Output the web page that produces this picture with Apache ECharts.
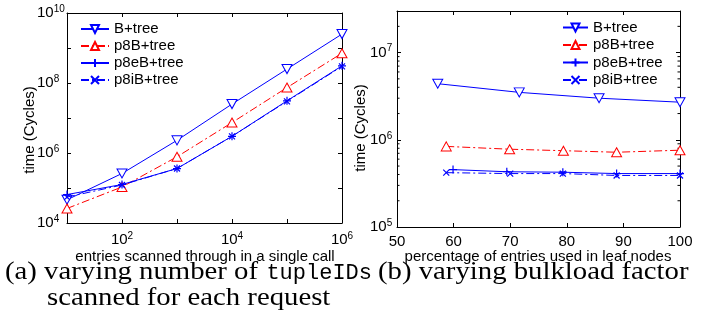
<!DOCTYPE html>
<html>
<head>
<meta charset="utf-8">
<script src="https://cdn.jsdelivr.net/npm/echarts@6/dist/echarts.min.js"></script>
<style>
html,body{margin:0;padding:0;background:#fff;}
#c{width:710px;height:325px;}
</style>
</head>
<body>
<div id="c"></div>
<script>
// ---- data: panel (a) ----
const seriesNames = ['B+tree', 'p8B+tree', 'p8eB+tree', 'p8iB+tree'];
const entriesA = [10, 100, 1000, 10000, 100000, 1000000];
const aBtree = [4.6e4, 2.6e5, 2.3e6, 2.5e7, 2.5e8, 2.5e9];
const aP8B   = [2.6e4, 1.07e5, 7.8e5, 7.4e6, 7.4e7, 7.1e8];
const aP8eB  = [6.5e4, 1.26e5, 3.6e5, 3.0e6, 3.1e7, 3.1e8];
const aP8iB  = [5.5e4, 1.22e5, 3.6e5, 3.0e6, 3.0e7, 3.0e8];
// ---- data: panel (b) ----
const bBtreeX = [57.2, 71.6, 85.7, 100];
const bBtree  = [4.4e6, 3.5e6, 3.0e6, 2.7e6];
const bP8BX   = [58.7, 69.9, 79.4, 88.8, 100];
const bP8B    = [8.4e5, 7.8e5, 7.5e5, 7.2e5, 7.6e5];
const bP8eBX  = [59.9, 69.4, 79.3, 88.8, 100];
const bP8eB   = [4.55e5, 4.3e5, 4.25e5, 4.1e5, 4.1e5];
const bP8iBX  = [58.7, 70.0, 79.3, 88.8, 100];
const bP8iB   = [4.2e5, 4.1e5, 4.1e5, 3.9e5, 3.9e5];
// ---- axes ----
const axA_x = {min: 10, max: 1e6};
const axA_y = {min: 1e4, max: 1e10};
const axB_x = {min: 50, max: 100, interval: 10};
const axB_y = {min: 1e5, max: 3e7};
const minorTicksB = [2e5,3e5,4e5,5e5,6e5,7e5,8e5,9e5,2e6,3e6,4e6,5e6,6e6,7e6,8e6,9e6,2e7];
// ---- text ----
const xTitleA = 'entries scanned through in a single call';
const xTitleB = 'percentage of entries used in leaf nodes';
const yTitle = 'time (Cycles)';
const capA1 = '(a) varying number of ';
const capA1tt = 'tupleIDs';
const capA2 = 'scanned for each request';
const capB = '(b) varying bulkload factor';

const FF = 'Liberation Sans, Arial, sans-serif';
const SERIF = '25px Liberation Serif, serif';
const MONO = '22px Liberation Mono, monospace';
const SX = 1.15;
const BLUE = '#0000ff', RED = '#ff0000';
const triDown = 'path://M0,0L10,0L5,8.7Z';
const triUp = 'path://M5,0L10,8.7L0,8.7Z';
const plus = 'path://M5,0L5,10M0,5L10,5';
const cross = 'path://M0,0L10,10M10,0L0,10';
const dashDot = [8, 3, 2, 3];

function pairs(xs, ys) { return xs.map((x, i) => [x, ys[i]]); }
function powLabel(filter) {
  return function (v) {
    const l = Math.log10(v), e = Math.round(l);
    if (Math.abs(l - e) > 1e-6 || !filter(e)) return '';
    return '{b|10}{s|' + e + '}';
  };
}
const rich = {
  b: {fontSize: 15, fontFamily: FF, color: '#000', lineHeight: 18},
  s: {fontSize: 10, fontFamily: FF, color: '#000', lineHeight: 1, verticalAlign: 'top'}
};

const styles = [
  {symbol: triDown, symbolSize: [10, 9], item: {color: '#fff', borderColor: BLUE, borderWidth: 1}, line: {color: BLUE, width: 1, type: 'solid'}},
  {symbol: triUp, symbolSize: [10, 9], item: {color: '#fff', borderColor: RED, borderWidth: 1}, line: {color: RED, width: 1, type: dashDot}},
  {symbol: plus, symbolSize: 8, item: {color: BLUE, borderColor: BLUE, borderWidth: 1.2}, line: {color: BLUE, width: 1, type: 'solid'}},
  {symbol: cross, symbolSize: 6, item: {color: BLUE, borderColor: BLUE, borderWidth: 1.2}, line: {color: BLUE, width: 1, type: dashDot}}
];

function mkSeries(idx, data, xi, yi) {
  const st = styles[idx];
  return {
    type: 'line', name: seriesNames[idx], xAxisIndex: xi, yAxisIndex: yi,
    data: data, symbol: st.symbol, symbolSize: st.symbolSize, showSymbol: true,
    itemStyle: st.item, lineStyle: st.line, animation: false, z: 3 + idx
  };
}

function baseAxis(extra) {
  return Object.assign({
    axisLine: {show: true, onZero: false, lineStyle: {color: '#000', width: 1}},
    axisTick: {show: true, inside: true, length: 4, lineStyle: {color: '#000'}},
    splitLine: {show: false},
    axisLabel: {show: false}
  }, extra);
}

const legendText = {fontSize: 15, fontFamily: FF, color: '#000', lineHeight: 17};

const option = {
  backgroundColor: '#fff',
  animation: false,
  grid: [
    {left: 67, top: 13, width: 275, height: 210, show: false},
    {left: 397, top: 11, width: 283, height: 216, show: false}
  ],
  xAxis: [
    baseAxis({gridIndex: 0, type: 'log', logBase: 10, min: axA_x.min, max: axA_x.max, position: 'bottom',
      axisLabel: {show: true, margin: 8, formatter: powLabel(e => e % 2 === 0), rich: rich}}),
    baseAxis({gridIndex: 0, type: 'log', logBase: 10, min: axA_x.min, max: axA_x.max, position: 'top'}),
    baseAxis({gridIndex: 1, type: 'value', min: axB_x.min, max: axB_x.max, interval: axB_x.interval, position: 'bottom',
      axisLabel: {show: true, margin: 7, fontSize: 15, fontFamily: FF, color: '#000'}}),
    baseAxis({gridIndex: 1, type: 'value', min: axB_x.min, max: axB_x.max, interval: axB_x.interval, position: 'top'})
  ],
  yAxis: [
    baseAxis({gridIndex: 0, type: 'log', logBase: 10, min: axA_y.min, max: axA_y.max, position: 'left',
      axisLabel: {show: true, margin: 30, align: 'left', formatter: powLabel(e => e % 2 === 0), rich: rich}}),
    baseAxis({gridIndex: 0, type: 'log', logBase: 10, min: axA_y.min, max: axA_y.max, position: 'right'}),
    baseAxis({gridIndex: 1, type: 'log', logBase: 10, min: axB_y.min, max: axB_y.max, position: 'left',
      axisLabel: {show: true, margin: 27, align: 'left', formatter: powLabel(e => true), rich: rich}}),
    baseAxis({gridIndex: 1, type: 'log', logBase: 10, min: axB_y.min, max: axB_y.max, position: 'right'})
  ],
  legend: [
    {data: seriesNames, orient: 'vertical', left: 80, top: 20.5, padding: 0, itemWidth: 28, itemHeight: 10, itemGap: 0,
      textStyle: legendText, selectedMode: false},
    {data: seriesNames, orient: 'vertical', left: 562, top: 19, padding: 0, itemWidth: 25, itemHeight: 10, itemGap: 0.5,
      textStyle: legendText, selectedMode: false}
  ],
  graphic: [
    {type: 'text', x: 205, y: 257, style: {text: xTitleA, font: '15px ' + FF, fill: '#000', align: 'center', verticalAlign: 'middle'}},
    {type: 'text', x: 538, y: 257, style: {text: xTitleB, font: '15px ' + FF, fill: '#000', align: 'center', verticalAlign: 'middle'}},
    {type: 'text', x: 30, y: 130, rotation: Math.PI / 2, style: {text: yTitle, font: '15px ' + FF, fill: '#000', align: 'center', verticalAlign: 'middle'}},
    {type: 'text', x: 361, y: 128, rotation: Math.PI / 2, style: {text: yTitle, font: '15px ' + FF, fill: '#000', align: 'center', verticalAlign: 'middle'}},
    {type: 'text', x: 5, y: 272, scaleX: SX, style: {text: capA1, font: SERIF, fill: '#000', verticalAlign: 'middle'}},
    {type: 'text', x: 372, y: 273, style: {text: capA1tt, font: MONO, fill: '#000', align: 'right', verticalAlign: 'middle'}},
    {type: 'text', x: 47, y: 298, scaleX: SX, style: {text: capA2, font: SERIF, fill: '#000', verticalAlign: 'middle'}},
    {type: 'text', x: 378, y: 272, scaleX: SX, style: {text: capB, font: SERIF, fill: '#000', verticalAlign: 'middle'}}
  ],
  series: [
    mkSeries(0, pairs(entriesA, aBtree), 0, 0),
    mkSeries(1, pairs(entriesA, aP8B), 0, 0),
    mkSeries(2, pairs(entriesA, aP8eB), 0, 0),
    mkSeries(3, pairs(entriesA, aP8iB), 0, 0),
    mkSeries(0, pairs(bBtreeX, bBtree), 2, 2),
    mkSeries(1, pairs(bP8BX, bP8B), 2, 2),
    mkSeries(2, pairs(bP8eBX, bP8eB), 2, 2),
    mkSeries(3, pairs(bP8iBX, bP8iB), 2, 2),
    {
      type: 'custom', xAxisIndex: 2, yAxisIndex: 2, silent: true, clip: false, z: 2,
      data: minorTicksB.map(v => [axB_x.min, v]),
      renderItem: function (params, api) {
        const v = api.value(1);
        const pl = api.coord([axB_x.min, v]);
        const pr = api.coord([axB_x.max, v]);
        return {type: 'group', children: [
          {type: 'line', shape: {x1: pl[0], y1: pl[1], x2: pl[0] + 2.5, y2: pl[1]}, style: {stroke: '#000', lineWidth: 1}},
          {type: 'line', shape: {x1: pr[0] - 2.5, y1: pr[1], x2: pr[0], y2: pr[1]}, style: {stroke: '#000', lineWidth: 1}}
        ]};
      }
    }
  ]
};
const chart = echarts.init(document.getElementById('c'), null, {renderer: 'canvas'});
chart.setOption(option);
</script>
</body>
</html>
